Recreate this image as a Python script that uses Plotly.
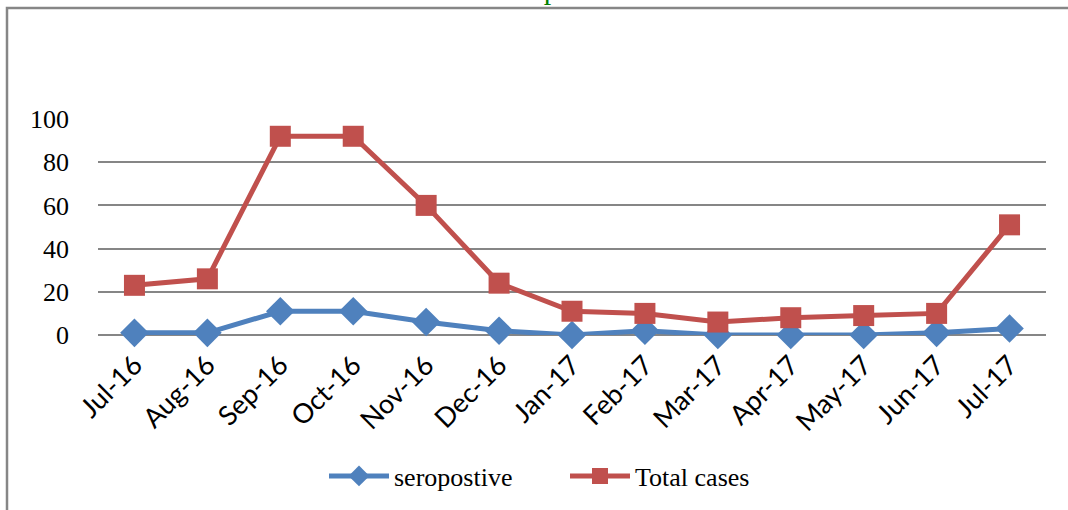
import plotly.graph_objects as go

months = ["Jul-16", "Aug-16", "Sep-16", "Oct-16", "Nov-16", "Dec-16", "Jan-17",
          "Feb-17", "Mar-17", "Apr-17", "May-17", "Jun-17", "Jul-17"]
seropositive = [1, 1, 11, 11, 6, 2, 0, 2, 0, 0, 0, 1, 3]
total_cases = [23, 26, 92, 92, 60, 24, 11, 10, 6, 8, 9, 10, 51]
y_ticks = [0, 20, 40, 60, 80, 100]

BLUE = "#4F81BD"
RED = "#C0504D"
GRID = "#868686"

fig = go.Figure()
fig.add_trace(go.Scatter(
    x=months, y=seropositive, name="seropostive", mode="lines+markers",
    line=dict(color=BLUE, width=5),
    marker=dict(symbol="diamond", size=22, color=BLUE),
    cliponaxis=False,
))
fig.add_trace(go.Scatter(
    x=months, y=total_cases, name="Total cases", mode="lines+markers",
    line=dict(color=RED, width=5),
    marker=dict(symbol="square", size=21, color=RED),
    cliponaxis=False,
))

L, R, T, B = 98, 22, 119, 174
W, H = 1068, 510
pw = W - L - R
ph = H - T - B

def px_x(px):
    return (px - L) / pw

def px_y(py):
    return (H - B - py) / ph

fig.update_layout(
    width=W, height=H,
    margin=dict(l=L, r=R, t=T, b=B),
    paper_bgcolor="white", plot_bgcolor="white",
    showlegend=True,
    legend=dict(orientation="h", x=px_x(324), xanchor="left",
                y=px_y(476), yanchor="middle",
                font=dict(family="Liberation Serif", size=26, color="black"),
                itemwidth=60, entrywidth=166, entrywidthmode="pixels",
                traceorder="normal"),
    xaxis=dict(
        type="category", range=[-0.5, 12.5], showgrid=False, zeroline=False,
        showline=False, tickangle=-45, ticks="",
        tickfont=dict(family="Lato", size=27, color="black"),
        ticklabelstandoff=8,
    ),
    yaxis=dict(
        range=[0, 100], tickvals=y_ticks, showgrid=True, gridcolor=GRID,
        gridwidth=2, zeroline=True, zerolinecolor=GRID, zerolinewidth=2,
        showline=False, ticks="",
        tickfont=dict(family="Liberation Serif", size=26, color="black"),
        ticklabelstandoff=28,
    ),
    shapes=[dict(type="rect", xref="paper", yref="paper",
                 x0=px_x(7), x1=px_x(1080), y0=px_y(530), y1=px_y(7.5),
                 line=dict(color=GRID, width=2.5), fillcolor="rgba(0,0,0,0)",
                 layer="below")],
    annotations=[dict(text="Total vs seropositive cases", xref="paper", yref="paper",
                      x=px_x(550), y=px_y(6), xanchor="center", yanchor="bottom",
                      showarrow=False,
                      font=dict(family="Liberation Serif", size=30, color="#008000"))],
)

fig.write_html("out.html", config={"displayModeBar": False},
               post_script="document.body.style.margin='0';")
